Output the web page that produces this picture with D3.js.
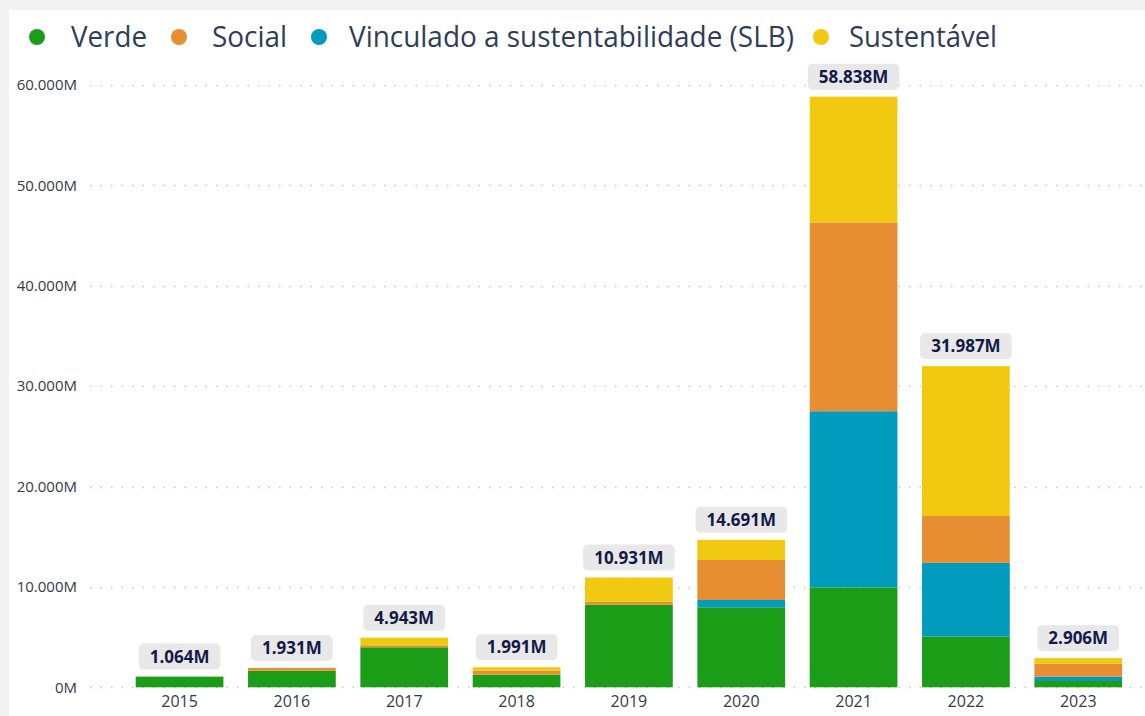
<!DOCTYPE html>
<html>
<head>
<meta charset="utf-8">
<script src="https://d3js.org/d3.v7.min.js"></script>
<style>
  body { margin: 0; background: #f2f2f2; }
  svg { display: block; }
</style>
</head>
<body>
<div id="chart"></div>
<script>
// data (values in M)
var years = ["2015", "2016", "2017", "2018", "2019", "2020", "2021", "2022", "2023"];
var verde = [1064, 1650, 3985, 1255, 8229, 7970, 9950, 5070, 628];
var slb = [0, 0, 0, 0, 0, 727, 17550, 7320, 428];
var social = [0, 281, 200, 398, 299, 3985, 18810, 4670, 1295];
var sustentavel = [0, 0, 758, 338, 2403, 2009, 12528, 14927, 555];
var yTicks = [0, 10000, 20000, 30000, 40000, 50000, 60000];

var seriesNames = ["Verde", "Social", "Vinculado a sustentabilidade (SLB)", "Sustentável"];
var colors = {
  "Verde": "#1c9d18",
  "Social": "#e68e31",
  "Vinculado a sustentabilidade (SLB)": "#009bbd",
  "Sustentável": "#f1c911"
};

var width = 1145, height = 716;

var svg = d3.select("#chart").append("svg")
  .attr("width", width)
  .attr("height", height);

// page background: white panel on light grey
svg.append("rect").attr("x", 0).attr("y", 0).attr("width", width).attr("height", height).attr("fill", "#f2f2f2");
svg.append("rect").attr("x", 9).attr("y", 10).attr("width", width - 9).attr("height", height - 10).attr("fill", "#ffffff");

var pt = d3.formatLocale({ decimal: ",", thousands: ".", grouping: [3], currency: ["", ""] });
var fmt = pt.format(",");

var table = years.map(function(y, i) {
  return {
    year: y,
    "Verde": verde[i],
    "Vinculado a sustentabilidade (SLB)": slb[i],
    "Social": social[i],
    "Sustentável": sustentavel[i]
  };
});

var stackKeys = ["Verde", "Vinculado a sustentabilidade (SLB)", "Social", "Sustentável"];
var stacked = d3.stack().keys(stackKeys)(table);

var x = d3.scaleBand()
  .domain(years)
  .range([135.7, 1122.1])
  .paddingInner(0.219)
  .paddingOuter(0);

var y = d3.scaleLinear()
  .domain([0, 60000])
  .range([687.3, 85]);

// gridlines
svg.append("g").selectAll("line")
  .data(yTicks)
  .enter().append("line")
  .attr("x1", 90)
  .attr("x2", 1142)
  .attr("y1", function(d) { return Math.round(y(d)) + 0.5; })
  .attr("y2", function(d) { return Math.round(y(d)) + 0.5; })
  .attr("stroke", "#c6c6c6")
  .attr("stroke-width", 1.5)
  .attr("stroke-dasharray", "1.5,9");

// y axis labels
var yAxis = svg.append("g")
  .attr("transform", "translate(77,0)")
  .call(d3.axisLeft(y).tickValues(yTicks).tickSize(0).tickPadding(0)
    .tickFormat(function(d) { return fmt(d) + "M"; }));
yAxis.select(".domain").remove();
yAxis.selectAll("text")
  .attr("font-family", "'Open Sans', sans-serif")
  .attr("font-size", 15)
  .attr("fill", "#333a48");

// x axis labels
var xAxis = svg.append("g")
  .attr("transform", "translate(0,687.3)")
  .call(d3.axisBottom(x).tickSize(0).tickPadding(8));
xAxis.select(".domain").remove();
xAxis.selectAll("text")
  .attr("font-family", "'Open Sans', sans-serif")
  .attr("font-size", 16)
  .attr("fill", "#333a48");

// stacked bars
svg.append("g").selectAll("g")
  .data(stacked)
  .enter().append("g")
  .attr("fill", function(d) { return colors[d.key]; })
  .selectAll("rect")
  .data(function(d) { return d; })
  .enter().append("rect")
  .attr("x", function(d) { return x(d.data.year); })
  .attr("width", x.bandwidth())
  .attr("y", function(d) { return y(d[1]); })
  .attr("height", function(d) { return y(d[0]) - y(d[1]); });

// total labels
var totals = table.map(function(d) {
  return { year: d.year, total: d3.sum(stackKeys, function(k) { return d[k]; }) };
});

var lab = svg.append("g").selectAll("g")
  .data(totals)
  .enter().append("g")
  .attr("transform", function(d) {
    return "translate(" + (x(d.year) + x.bandwidth() / 2) + "," + (y(d.total) - 20) + ")";
  });

lab.append("rect").attr("class", "lbg");
lab.append("text")
  .attr("text-anchor", "middle")
  .attr("dy", "0.36em")
  .attr("font-family", "'Open Sans', sans-serif")
  .attr("font-weight", "bold")
  .attr("font-size", 17)
  .attr("fill", "#141a48")
  .text(function(d) { return fmt(d.total) + "M"; });

lab.each(function() {
  var g = d3.select(this);
  var w = g.select("text").node().getComputedTextLength() + 22;
  g.select("rect")
    .attr("x", -w / 2)
    .attr("y", -13)
    .attr("width", w)
    .attr("height", 26)
    .attr("rx", 5)
    .attr("fill", "#e8e8e8");
});

// legend
var legendX = [37, 179, 319, 821];
var legendTextX = [71, 212, 349, 849];
var legendW = [76, 75, 445, 148];

var legend = svg.append("g").selectAll("g")
  .data(seriesNames)
  .enter().append("g");

legend.append("circle")
  .attr("cx", function(d, i) { return legendX[i]; })
  .attr("cy", 37)
  .attr("r", 8)
  .attr("fill", function(d) { return colors[d]; });

legend.append("text")
  .attr("x", function(d, i) { return legendTextX[i]; })
  .attr("y", 47)
  .attr("font-family", "'Open Sans', sans-serif")
  .attr("font-size", 29)
  .attr("fill", "#2f3d58")
  .attr("textLength", function(d, i) { return legendW[i]; })
  .attr("lengthAdjust", "spacingAndGlyphs")
  .text(function(d) { return d; });
</script>
</body>
</html>
